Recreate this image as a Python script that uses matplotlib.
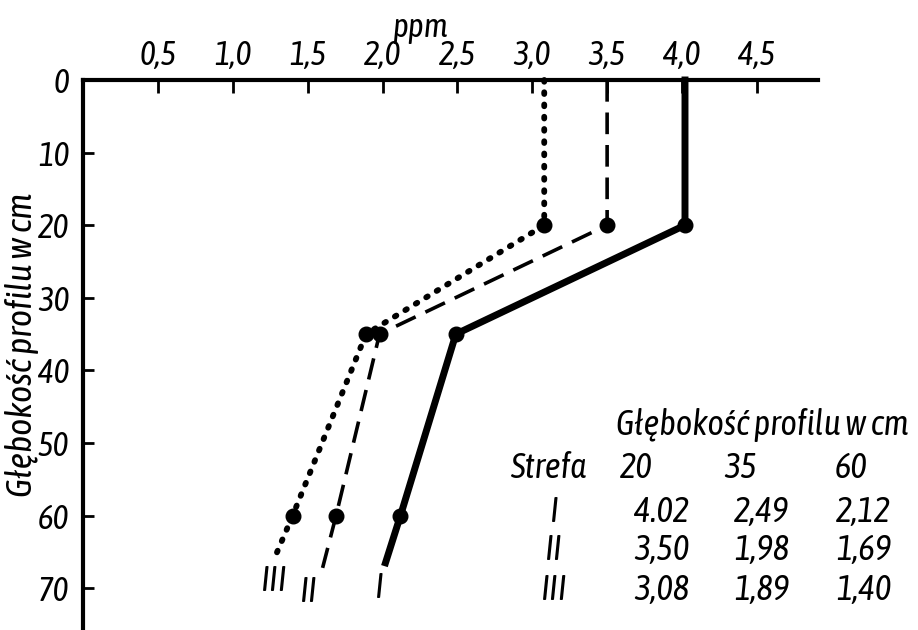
import matplotlib
matplotlib.use("Agg")
import matplotlib.pyplot as plt
from matplotlib import font_manager

# ---- data ----
depths = [20, 35, 60]
zone_I = [4.02, 2.49, 2.12]
zone_II = [3.50, 1.98, 1.69]
zone_III = [3.08, 1.89, 1.40]
# lines drawn from the surface (value of 20 cm held) and extended below 60 cm
end_depth = {"I": 66.5, "II": 67.2, "III": 65.8}
end_value = {"I": 2.02, "II": 1.60, "III": 1.28}

x_ticks = [0.5, 1.0, 1.5, 2.0, 2.5, 3.0, 3.5, 4.0, 4.5]
x_tick_labels = ["0,5", "1,0", "1,5", "2,0", "2,5", "3,0", "3,5", "4,0", "4,5"]
y_ticks = [0, 10, 20, 30, 40, 50, 60, 70]

table_cols = ["20", "35", "60"]
table_rows = ["I", "II", "III"]
table_vals = [["4.02", "2,49", "2,12"],
              ["3,50", "1,98", "1,69"],
              ["3,08", "1,89", "1,40"]]

# ---- font ----
names = {f.name for f in font_manager.fontManager.ttflist}
fam = [n for n in ["Asap Condensed", "Archivo Narrow", "Liberation Sans Narrow"] if n in names][:1]
fam += ["DejaVu Sans"]
plt.rcParams["font.family"] = fam
plt.rcParams["font.style"] = "italic"
FS = 24
FT = 25

W, H = 918, 630
fig = plt.figure(figsize=(W / 100, H / 100), dpi=100)
x0 = 83.0
ppu = 149.75
y0 = 80.0
ppd = 7.26
ax = fig.add_axes([x0 / W, 0.0, (818 - x0) / W, (H - y0) / H])
ax.set_xlim(0, (818 - x0) / ppu)
ax.set_ylim((H - y0) / ppd, 0)

for sp in ["right", "bottom"]:
    ax.spines[sp].set_visible(False)
for sp in ["left", "top"]:
    ax.spines[sp].set_linewidth(3)

ax.xaxis.set_ticks_position("top")
ax.set_xticks(x_ticks)
ax.set_xticklabels(x_tick_labels, fontsize=FS, style="italic")
ax.set_yticks(y_ticks)
ax.set_yticklabels([str(v) for v in y_ticks], fontsize=FS, style="italic")
ax.tick_params(axis="x", direction="in", length=9, width=2, pad=6)
ax.tick_params(axis="y", direction="in", length=8, width=2, pad=10)
fig.text(420 / W, 1 - 28 / H, "ppm", fontsize=FS, style="italic", ha="center", va="center")
fig.text(22 / W, 1 - 345 / H, "Głębokość profilu w cm", fontsize=26, style="italic",
         ha="center", va="center", rotation=90)

series = [("I", zone_I, "-", 5.0), ("II", zone_II, (0, (6, 3)), 2.6), ("III", zone_III, (0, (0.3, 1.8)), 4.2)]
for name, vals, ls, lw in series:
    xs = [vals[0]] + vals + [end_value[name]]
    ys = [0] + depths + [end_depth[name]]
    kw = dict(color="black", linestyle=ls, linewidth=lw, clip_on=False)
    if name == "III":
        kw["dash_capstyle"] = "round"
    ax.plot(xs, ys, **kw)
    ax.plot(vals, depths, "o", color="black", markersize=10.5, linestyle="none")

# zone labels near line ends
ax.text(1.27, 69.0, "III", fontsize=FT, style="italic", ha="center", va="center")
ax.text(1.50, 70.5, "II", fontsize=FT, style="italic", ha="center", va="center")
ax.text(1.97, 70.0, "I", fontsize=FT, style="italic", ha="center", va="center")

# table
def ft(x, y, s, **kw):
    fig.text(x / W, 1 - y / H, s, fontsize=FT, style="italic", ha="center", va="center", **kw)

ft(762, 425, "Głębokość profilu w cm")
ft(548, 468, "Strefa")
col_x_head = [636, 741, 851]
col_x_vals = [662, 762, 864]
row_y = [512, 550, 590]
for cx, c in zip(col_x_head, table_cols):
    ft(cx, 468, c)
for ry, r, vals in zip(row_y, table_rows, table_vals):
    ft(553, ry, r)
    for cx, v in zip(col_x_vals, vals):
        ft(cx, ry, v)

fig.savefig("out.png", dpi=100)
